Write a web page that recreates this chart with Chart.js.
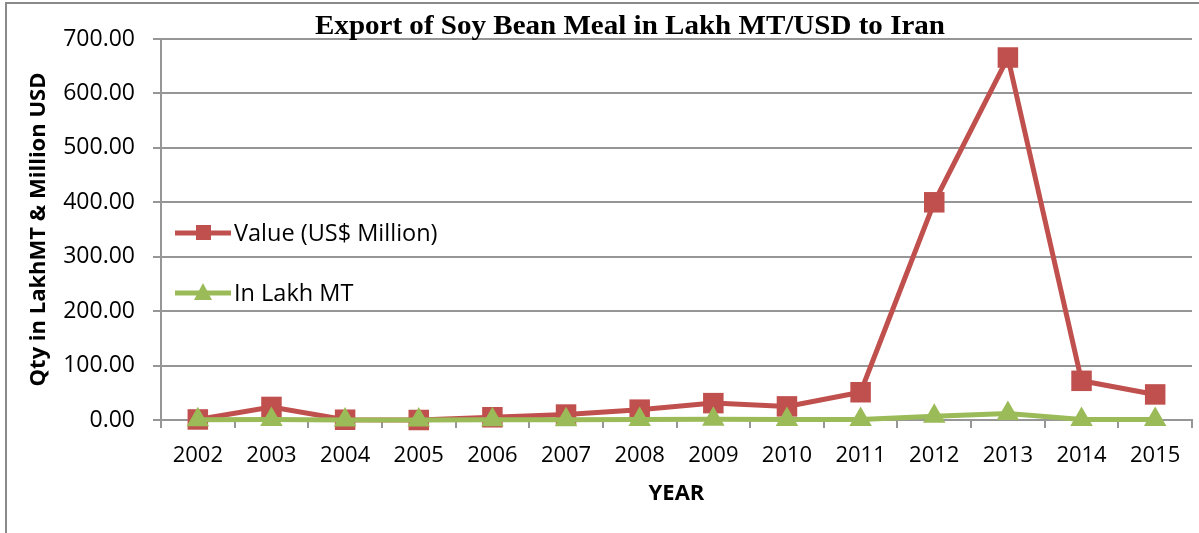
<!DOCTYPE html>
<html>
<head>
<meta charset="utf-8">
<script src="https://cdn.jsdelivr.net/npm/chart.js@4/dist/chart.umd.min.js"></script>
<style>
  html, body { margin: 0; padding: 0; background: #fff; }
  #wrap { width: 1199px; height: 533px; }
</style>
</head>
<body>
<div id="wrap"><canvas id="myChart" width="1199" height="533"></canvas></div>
<script>
const years = ["2002", "2003", "2004", "2005", "2006", "2007", "2008", "2009", "2010", "2011", "2012", "2013", "2014", "2015"];
const valueUsd = [1, 24, 0.5, 0, 5, 10, 19, 31, 25, 51, 400, 666, 72, 47];
const qtyLakhMt = [0.3, 1, 0.2, 0.1, 0.5, 0.6, 0.8, 1.2, 1.1, 0.9, 7, 12, 1, 0.8];
const chartTitle = "Export of Soy Bean Meal in Lakh MT/USD to Iran";

const RED = "#C0504D";
const GREEN = "#9BBB59";
const GRID = "#969696";

// frame + title + legend sitting inside the plot
const decor = {
  id: "decor",
  beforeDraw(chart) {
    const ctx = chart.ctx;
    ctx.save();
    ctx.strokeStyle = "#8a8a8a";
    ctx.lineWidth = 2;
    ctx.strokeRect(6, 3, 1300, 700);
    ctx.restore();
  },
  afterDraw(chart) {
    const ctx = chart.ctx;
    ctx.save();
    ctx.fillStyle = "#000";
    ctx.font = "bold 28px 'Liberation Serif'";
    ctx.textAlign = "center";
    ctx.textBaseline = "middle";
    // squeeze the title a little, the original face is narrower
    const w = ctx.measureText(chartTitle).width;
    ctx.translate(630, 27);
    ctx.scale(630 / w, 1);
    ctx.fillText(chartTitle, 0, 0);
    ctx.setTransform(1, 0, 0, 1, 0, 0);

    const rows = [233, 293];
    chart.data.datasets.forEach((ds, i) => {
      const y = rows[i];
      ctx.strokeStyle = ds.borderColor;
      ctx.lineWidth = 5;
      ctx.beginPath();
      ctx.moveTo(175, y);
      ctx.lineTo(231, y);
      ctx.stroke();
      ctx.fillStyle = ds.borderColor;
      ctx.beginPath();
      if (ds.pointStyle === "rect") {
        ctx.rect(196, y - 8, 15, 15);
      } else {
        ctx.moveTo(203, y - 10);
        ctx.lineTo(212, y + 7);
        ctx.lineTo(194, y + 7);
        ctx.closePath();
      }
      ctx.fill();
      ctx.fillStyle = "#000";
      ctx.font = "23.5px 'Open Sans'";
      ctx.textAlign = "left";
      ctx.fillText(ds.label, 234, y + 1);
    });
    ctx.restore();
  }
};

new Chart("myChart", {
  type: "line",
  data: {
    labels: years,
    datasets: [
      {
        label: "Value (US$ Million)",
        data: valueUsd,
        borderColor: RED,
        backgroundColor: RED,
        borderWidth: 5,
        pointStyle: "rect",
        pointRadius: 14.5,
        pointBorderWidth: 0,
        clip: false,
        order: 2,
      },
      {
        label: "In Lakh MT",
        data: qtyLakhMt,
        borderColor: GREEN,
        backgroundColor: GREEN,
        borderWidth: 5,
        pointStyle: "triangle",
        pointRadius: 13,
        pointBorderWidth: 0,
        clip: false,
        order: 1,
      },
    ],
  },
  options: {
    responsive: false,
    animation: false,
    layout: { autoPadding: false, padding: { top: 39, left: 22, right: 7, bottom: 22 } },
    plugins: {
      legend: { display: false },
      title: { display: false },
      tooltip: { enabled: false },
    },
    scales: {
      x: {
        offset: true,
        grid: { offset: true, drawOnChartArea: false, color: GRID, lineWidth: 2, tickLength: 8 },
        border: { color: GRID, width: 2 },
        ticks: { color: "#000", font: { family: "Open Sans", size: 22 }, padding: 15, maxRotation: 0 },
        title: { display: true, text: "YEAR", color: "#000", font: { family: "Open Sans", size: 22, weight: "bold" }, padding: 4 },
        afterFit(scale) { scale.height = 91; },
      },
      y: {
        min: 0,
        max: 700,
        ticks: {
          stepSize: 100,
          color: "#000",
          font: { family: "Open Sans", size: 23 },
          padding: 18,
          callback: (v) => Number(v).toFixed(2),
        },
        grid: { color: GRID, lineWidth: 2, tickLength: 8 },
        border: { color: GRID, width: 2 },
        title: { display: true, text: "Qty in LakhMT & Million USD", color: "#000", font: { family: "Open Sans", size: 22, weight: "bold" }, padding: 4 },
        afterFit(scale) { scale.width = 139; },
      },
    },
  },
  plugins: [decor],
});
</script>
</body>
</html>
